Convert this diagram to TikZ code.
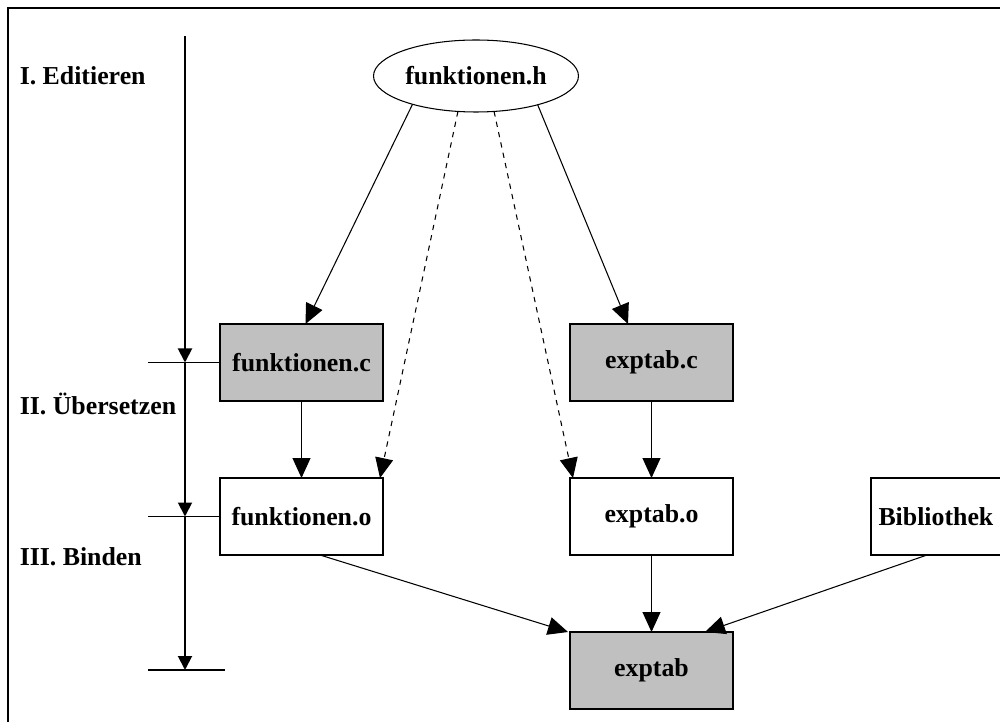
\documentclass[tikz,border=0pt]{standalone}
\usepackage{fontspec}
\setmainfont{Liberation Serif}
\usepackage{tikz}
\usetikzlibrary{shapes.geometric,arrows.meta}
\definecolor{boxgray}{HTML}{C0C0C0}

\begin{document}
\begin{tikzpicture}[every node/.style={inner sep=1,outer sep=0,font=\fontsize{14.7}{17}\selectfont\bfseries},
    file/.style={draw,line width=0.6pt,minimum width=3.26cm,minimum height=1.54cm},
    src/.style={file,fill=boxgray},
    link/.style={line width=0.6pt,-{Triangle[length=0.4cm,width=0.36cm]}},
    phase/.style={line width=1.1pt,-{Triangle[length=0.28cm,width=0.28cm]}}]
    \useasboundingbox (0,0) rectangle (20,-14.44);
    \draw[line width=1.5pt] (0.16,-14.6) -- (0.16,-0.16) -- (20.2,-0.16);

    \node(fh)[draw,ellipse,line width=0.6pt,minimum width=3.94cm,minimum height=1.44cm] at (9.52,-1.52) {funktionen.h};
    \node(fc)[src] at (6.03,-7.25) {funktionen.c};
    \node(ec)[src] at (13.03,-7.25) {exptab.c};
    \node(fo)[file] at (6.03,-10.33) {funktionen.o};
    \node(eo)[file] at (13.03,-10.33) {exptab.o};
    \node(bib)[file,minimum width=2.9cm,text width=2.6cm,align=left] at (18.87,-10.33) {Bibliothek};
    \node(ex)[src] at (13.03,-13.41) {exptab};

    \draw [link] (fh.204) -- ([xshift=0.08cm]fc.north);
    \draw [link,dashed] (fh.243) -- ([xshift=-0.06cm]fo.north east);
    \draw [link,dashed] (fh.297) -- ([xshift=0.06cm]eo.north west);
    \draw [link] (fh.335) -- ([xshift=-0.47cm]ec.north);
    \draw [link] (fc.south) -- (fo.north);
    \draw [link] (ec.south) -- (eo.north);
    \draw [link] ([xshift=0.37cm]fo.south) -- ([xshift=-0.04cm]ex.north west);
    \draw [link] (eo.south) -- (ex.north);
    \draw [link] ([xshift=-0.33cm]bib.south) -- ([xshift=-0.56cm]ex.north east);

    % phases
    \coordinate(top) at (3.7,-0.72);
    \coordinate(t1) at (fc.west -| top);
    \coordinate(t2) at (fo.west -| top);
    \coordinate(t3) at (3.7,-13.4);
    \coordinate(tick1) at (2.96,-7.25);
    \coordinate(tick2) at (2.96,-10.33);
    \coordinate(tick3a) at (2.96,-13.4);
    \coordinate(tick3b) at (4.5,-13.4);
    \draw [phase] (top) -- (t1);
    \draw [phase] (t1) -- (t2);
    \draw [phase] (t2) -- (t3);
    \draw [line width=0.6pt] (tick1) -- (fc.west);
    \draw [line width=0.6pt] (tick2) -- (fo.west);
    \draw [line width=0.6pt] (tick3a) -- (tick3b);

    \node(p1)[anchor=west] at (0.36,-1.52) {I. Editieren};
    \node(p2)[anchor=west] at (0.36,-8.08) {II. Übersetzen};
    \node(p3)[anchor=west] at (0.36,-11.14) {III. Binden};
\end{tikzpicture}
\end{document}
